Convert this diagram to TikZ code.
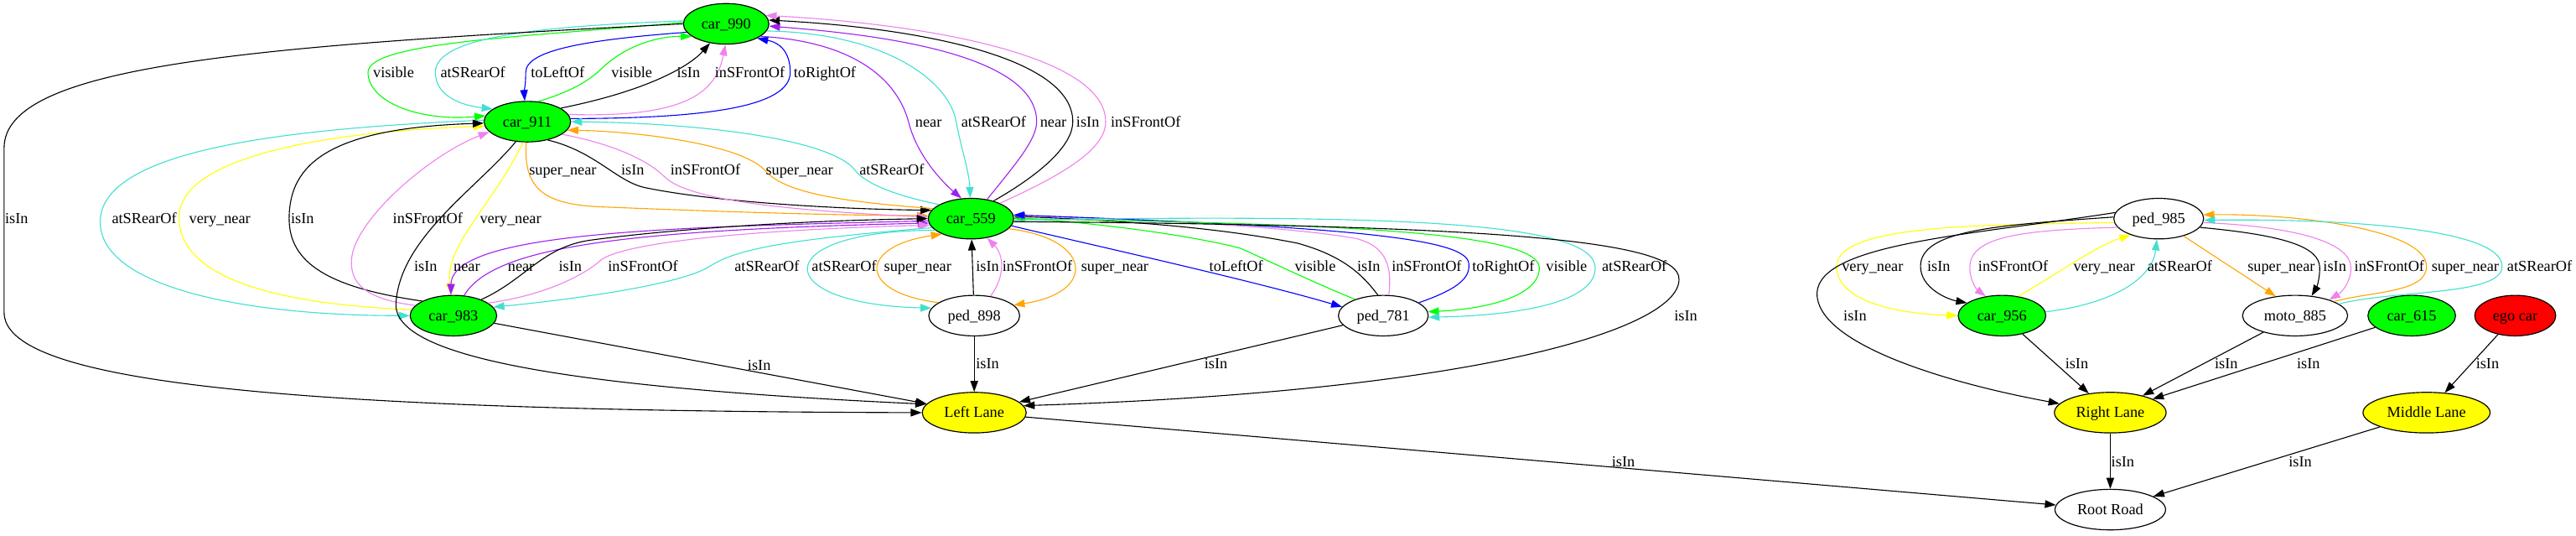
\documentclass[tikz,border=0pt]{standalone}
\usepackage{fontspec}
\setmainfont{Liberation Serif}
\usetikzlibrary{arrows.meta,shapes.geometric}
\definecolor{cgreen}{RGB}{0,255,0}
\definecolor{cturq}{RGB}{64,224,208}
\definecolor{cblue}{RGB}{0,0,255}
\definecolor{cviolet}{RGB}{238,130,238}
\definecolor{cpurple}{RGB}{160,32,240}
\definecolor{corange}{RGB}{255,165,0}
\definecolor{cyellow}{RGB}{255,255,0}
\definecolor{cred}{RGB}{255,0,0}
\newcounter{lbn}
\newcommand{\elab}[3]{\stepcounter{lbn}\node[lb] (lb\arabic{lbn}) at (#1,{-(#2)-3.2}) {#3};}
\begin{document}
\begin{tikzpicture}[x=1.5pt,y=1.5pt,
  nd/.style={ellipse,draw,line width=0.9pt,minimum height=37pt,inner sep=0pt,
    text height=9.3pt,text depth=0pt,font=\fontsize{14pt}{16pt}\selectfont},
  lb/.style={anchor=base west,inner sep=0pt,font=\fontsize{14pt}{16pt}\selectfont},
  ed/.style={-{Triangle[length=10pt,width=7pt]},line width=0.85pt}]
\useasboundingbox (0,0) rectangle (1568,-326);
% nodes
\node[nd,fill=cgreen,minimum width=78pt] (c990) at (442,-14.5) {car\_990};
\node[nd,fill=cgreen,minimum width=79pt] (c911) at (321,-74) {car\_911};
\node[nd,fill=cgreen,minimum width=78pt] (c559) at (591,-133) {car\_559};
\node[nd,fill=cgreen,minimum width=79pt] (c983) at (276,-192) {car\_983};
\node[nd,minimum width=83pt] (p898) at (593,-192) {ped\_898};
\node[nd,minimum width=82pt] (p781) at (842,-192) {ped\_781};
\node[nd,fill=cyellow,minimum width=95pt] (LL) at (593,-251) {Left Lane};
\node[nd,minimum width=101pt] (RR) at (1284.5,-310) {Root Road};
\node[nd,fill=cyellow,minimum width=102pt] (RL) at (1284.5,-251) {Right Lane};
\node[nd,fill=cyellow,minimum width=116pt] (ML) at (1477,-251) {Middle Lane};
\node[nd,fill=cgreen,minimum width=80pt] (c956) at (1218.6,-192) {car\_956};
\node[nd,minimum width=96pt] (m885) at (1397,-192) {moto\_885};
\node[nd,fill=cgreen,minimum width=80pt] (c615) at (1468,-192) {car\_615};
\node[nd,fill=cred,minimum width=74pt] (ego) at (1531,-192) {ego car};
\node[nd,minimum width=82pt] (p985) at (1314,-133) {ped\_985};
% car_990 <-> car_911
\draw[ed,cgreen] (c990.178) .. controls (330,-22) and (224,-25) .. (224,-44) .. controls (224,-62) and (255,-74) .. (c911.172);
\draw[ed,cturq] (c990.176) .. controls (330,-16) and (265,-22) .. (265,-44) .. controls (265,-58) and (280,-64) .. (c911.160);
\draw[ed,cblue] (c990.192) .. controls (360,-24) and (320,-30) .. (320,-44) .. controls (320,-52) and (319,-56) .. (c911.97);
\draw[ed,cgreen] (c911.62) .. controls (350,-55) and (360,-48) .. (368,-40) .. controls (385,-25) and (405,-22) .. (c990.200);
\draw[ed] (c911.22) .. controls (395,-55) and (420,-40) .. (c990.230);
\draw[ed,cviolet] (c911.10) .. controls (420,-72) and (436,-55) .. (c990.268);
\draw[ed,cblue] (c911.4) .. controls (430,-72) and (481,-65) .. (481,-44) .. controls (481,-32) and (475,-26) .. (c990.335);
% car_990 <-> car_559
\draw[ed,cpurple] (c990.340) .. controls (515,-25) and (545,-45) .. (553,-74) .. controls (558,-95) and (575,-112) .. (c559.115);
\draw[ed,cturq] (c990.350) .. controls (540,-20) and (578,-50) .. (582,-74) .. controls (585,-90) and (590,-105) .. (c559.92);
\draw[ed,cpurple] (c559.50) .. controls (618,-100) and (631,-85) .. (631,-74) .. controls (631,-30) and (520,-20) .. (c990.357);
\draw[ed] (c559.38) .. controls (635,-105) and (653,-88) .. (653,-74) .. controls (653,-35) and (560,-17) .. (c990.5);
\draw[ed,cviolet] (c559.28) .. controls (650,-105) and (673,-90) .. (673,-74) .. controls (673,-35) and (570,-15) .. (c990.12);
% car_911 <-> car_559
\draw[ed,corange] (c911.267) .. controls (318,-118) and (335,-125) .. (370,-126) .. controls (420,-128) and (500,-131) .. (c559.176);
\draw[ed] (c911.318) .. controls (362,-92) and (375,-110) .. (392,-114) .. controls (430,-122) and (500,-127) .. (c559.168);
\draw[ed,cviolet] (c911.340) .. controls (375,-88) and (395,-98) .. (405,-108) .. controls (420,-122) and (480,-128) .. (c559.178);
\draw[ed,corange] (c559.165) .. controls (500,-122) and (475,-115) .. (465,-103) .. controls (450,-88) and (390,-80) .. (c911.348);
\draw[ed,cturq] (c559.156) .. controls (540,-118) and (525,-110) .. (520,-103) .. controls (505,-85) and (430,-75) .. (c911.0);
% far left and car_911 <-> car_983
\draw[ed] (c990.180) .. controls (150,-28) and (2.5,-40) .. (2.5,-90) -- (2.5,-190) .. controls (2.5,-230) and (150,-250) .. (LL.180);
\draw[ed,cturq] (c911.178) .. controls (180,-78) and (61,-90) .. (61,-135) .. controls (61,-175) and (150,-192) .. (c983.180);
\draw[ed,cyellow] (c983.172) .. controls (170,-185) and (110,-170) .. (109,-133) .. controls (108,-95) and (200,-80) .. (c911.186);
\draw[ed] (c983.155) .. controls (200,-175) and (176,-160) .. (176,-133) .. controls (176,-100) and (200,-78) .. (c911.182);
\draw[ed,cviolet] (c983.165) .. controls (222,-182) and (213,-172) .. (214,-158) .. controls (215,-135) and (260,-95) .. (c911.195);
\draw[ed,cyellow] (c911.258) .. controls (300,-125) and (270,-150) .. (c983.95);
\draw[ed] (c911.240) .. controls (290,-115) and (243,-145) .. (241,-185) .. controls (240,-215) and (330,-235) .. (LL.170);
% car_983 <-> car_559
\draw[ed,cpurple] (c559.183) .. controls (420,-138) and (275,-140) .. (c983.97);
\draw[ed,cpurple] (c983.62) .. controls (300,-150) and (380,-140) .. (c559.186);
\draw[ed] (c983.30) .. controls (320,-170) and (330,-150) .. (360,-146) .. controls (420,-138) and (500,-134) .. (c559.180);
\draw[ed,cviolet] (c983.20) .. controls (330,-180) and (355,-168) .. (366,-158) .. controls (380,-148) and (450,-140) .. (c559.189);
\draw[ed,cturq] (c559.193) .. controls (490,-145) and (450,-150) .. (432,-162) .. controls (415,-173) and (350,-182) .. (c983.12);
% car_559 <-> ped_898
\draw[ed,cturq] (c559.198) .. controls (467,-140) and (467,-185) .. (p898.170);
\draw[ed,corange] (p898.160) .. controls (522,-178) and (522,-150) .. (c559.208);
\draw[ed] (p898) -- (c559);
\draw[ed,cviolet] (p898.50) .. controls (612,-168) and (611,-155) .. (c559.310);
\draw[ed,corange] (c559.345) .. controls (665,-145) and (668,-178) .. (p898.15);
% car_559 <-> ped_781
\draw[ed,cblue] (c559.350) .. controls (660,-148) and (760,-170) .. (p781.168);
\draw[ed,cgreen] (p781.150) .. controls (800,-172) and (775,-160) .. (755,-151) .. controls (720,-142) and (660,-135) .. (c559.1);
\draw[ed] (p781.105) .. controls (828,-165) and (815,-155) .. (790,-148) .. controls (740,-138) and (680,-134) .. (c559.3);
\draw[ed,cviolet] (p781.75) .. controls (847,-165) and (846,-150) .. (825,-145) .. controls (780,-137) and (680,-133) .. (c559.4);
\draw[ed,cblue] (p781.20) .. controls (890,-175) and (895,-168) .. (894,-160) .. controls (892,-145) and (820,-138) .. (c559.5);
\draw[ed,cgreen] (c559.0) .. controls (800,-136) and (937,-140) .. (937,-163) .. controls (937,-180) and (905,-188) .. (p781.5);
\draw[ed,cturq] (c559.358) .. controls (850,-130) and (971,-135) .. (971,-163) .. controls (971,-185) and (920,-192) .. (p781.358);
\draw[ed] (c559.356) .. controls (900,-137) and (1023,-145) .. (1022,-170) .. controls (1022,-200) and (900,-238) .. (LL.8);
% to lanes
\draw[ed] (c983) -- (LL);
\draw[ed] (p898) -- (LL);
\draw[ed] (p781) -- (LL);
\draw[ed] (LL) -- (RR);
% right cluster
\draw[ed,cyellow] (p985.185) .. controls (1220,-137) and (1118,-135) .. (1118,-162) .. controls (1118,-185) and (1160,-191) .. (c956.180);
\draw[ed] (p985.178) .. controls (1215,-137) and (1169,-140) .. (1169,-162) .. controls (1169,-175) and (1185,-182) .. (c956.160);
\draw[ed,cviolet] (p985.192) .. controls (1225,-140) and (1199,-145) .. (1199,-163) .. controls (1199,-170) and (1203,-176) .. (c956.130);
\draw[ed,cyellow] (c956.50) .. controls (1250,-168) and (1275,-150) .. (p985.210);
\draw[ed,cturq] (c956.5) .. controls (1285,-185) and (1310,-170) .. (p985.265);
\draw[ed,corange] (p985.325) -- (m885.135);
\draw[ed] (p985.348) .. controls (1390,-143) and (1412,-150) .. (1412,-163) .. controls (1412,-170) and (1410,-175) .. (m885.50);
\draw[ed,cviolet] (p985.355) .. controls (1400,-138) and (1431,-148) .. (1431,-163) .. controls (1431,-172) and (1425,-178) .. (m885.25);
\draw[ed,corange] (m885.20) .. controls (1445,-177) and (1477,-178) .. (1477,-162) .. controls (1477,-140) and (1400,-130) .. (p985.5);
\draw[ed,cturq] (m885.15) .. controls (1460,-176) and (1523,-180) .. (1523,-162) .. controls (1523,-138) and (1420,-133) .. (p985.358);
\draw[ed] (p985.172) .. controls (1200,-143) and (1108,-148) .. (1106,-178) .. controls (1105,-208) and (1180,-232) .. (RL.170);
\draw[ed] (c956) -- (RL);
\draw[ed] (m885) -- (RL);
\draw[ed] (c615) -- (RL);
\draw[ed] (ego) -- (ML);
\draw[ed] (RL) -- (RR);
\draw[ed] (ML) -- (RR);
% labels
\elab{227}{44}{visible}
\elab{268}{44}{atSRearOf}
\elab{323}{44}{toLeftOf}
\elab{372}{44}{visible}
\elab{412}{44}{isIn}
\elab{435}{44}{inSFrontOf}
\elab{483}{44}{toRightOf}
\elab{557}{74}{near}
\elab{585}{74}{atSRearOf}
\elab{633}{74}{near}
\elab{655}{74}{isIn}
\elab{676}{74}{inSFrontOf}
\elab{322}{103}{super\_near}
\elab{378}{103}{isIn}
\elab{408}{103}{inSFrontOf}
\elab{466}{103}{super\_near}
\elab{523}{103}{atSRearOf}
\elab{3}{133}{isIn}
\elab{68}{133}{atSRearOf}
\elab{115}{133}{very\_near}
\elab{177}{133}{isIn}
\elab{239}{133}{inSFrontOf}
\elab{292}{133}{very\_near}
\elab{252}{162}{isIn}
\elab{276}{162}{near}
\elab{309}{162}{near}
\elab{340}{162}{isIn}
\elab{370}{162}{inSFrontOf}
\elab{447}{162}{atSRearOf}
\elab{494}{162}{atSRearOf}
\elab{538}{162}{super\_near}
\elab{594}{162}{isIn}
\elab{610}{162}{inSFrontOf}
\elab{658}{162}{super\_near}
\elab{736}{162}{toLeftOf}
\elab{788}{162}{visible}
\elab{826}{162}{isIn}
\elab{847}{162}{inSFrontOf}
\elab{896}{162}{toRightOf}
\elab{941}{162}{visible}
\elab{975}{162}{atSRearOf}
\elab{1019}{192}{isIn}
\elab{455}{222}{isIn}
\elab{594}{221}{isIn}
\elab{733}{221}{isIn}
\elab{981}{280.5}{isIn}
\elab{1121}{162}{very\_near}
\elab{1173}{162}{isIn}
\elab{1204}{162}{inSFrontOf}
\elab{1262}{162}{very\_near}
\elab{1307}{162}{atSRearOf}
\elab{1368}{162}{super\_near}
\elab{1414}{162}{isIn}
\elab{1433}{162}{inSFrontOf}
\elab{1480}{162}{super\_near}
\elab{1526}{162}{atSRearOf}
\elab{1122}{192}{isIn}
\elab{1257}{221}{isIn}
\elab{1348}{221}{isIn}
\elab{1398}{221}{isIn}
\elab{1507}{221}{isIn}
\elab{1285}{280.5}{isIn}
\elab{1393}{280.5}{isIn}
\end{tikzpicture}
\end{document}
